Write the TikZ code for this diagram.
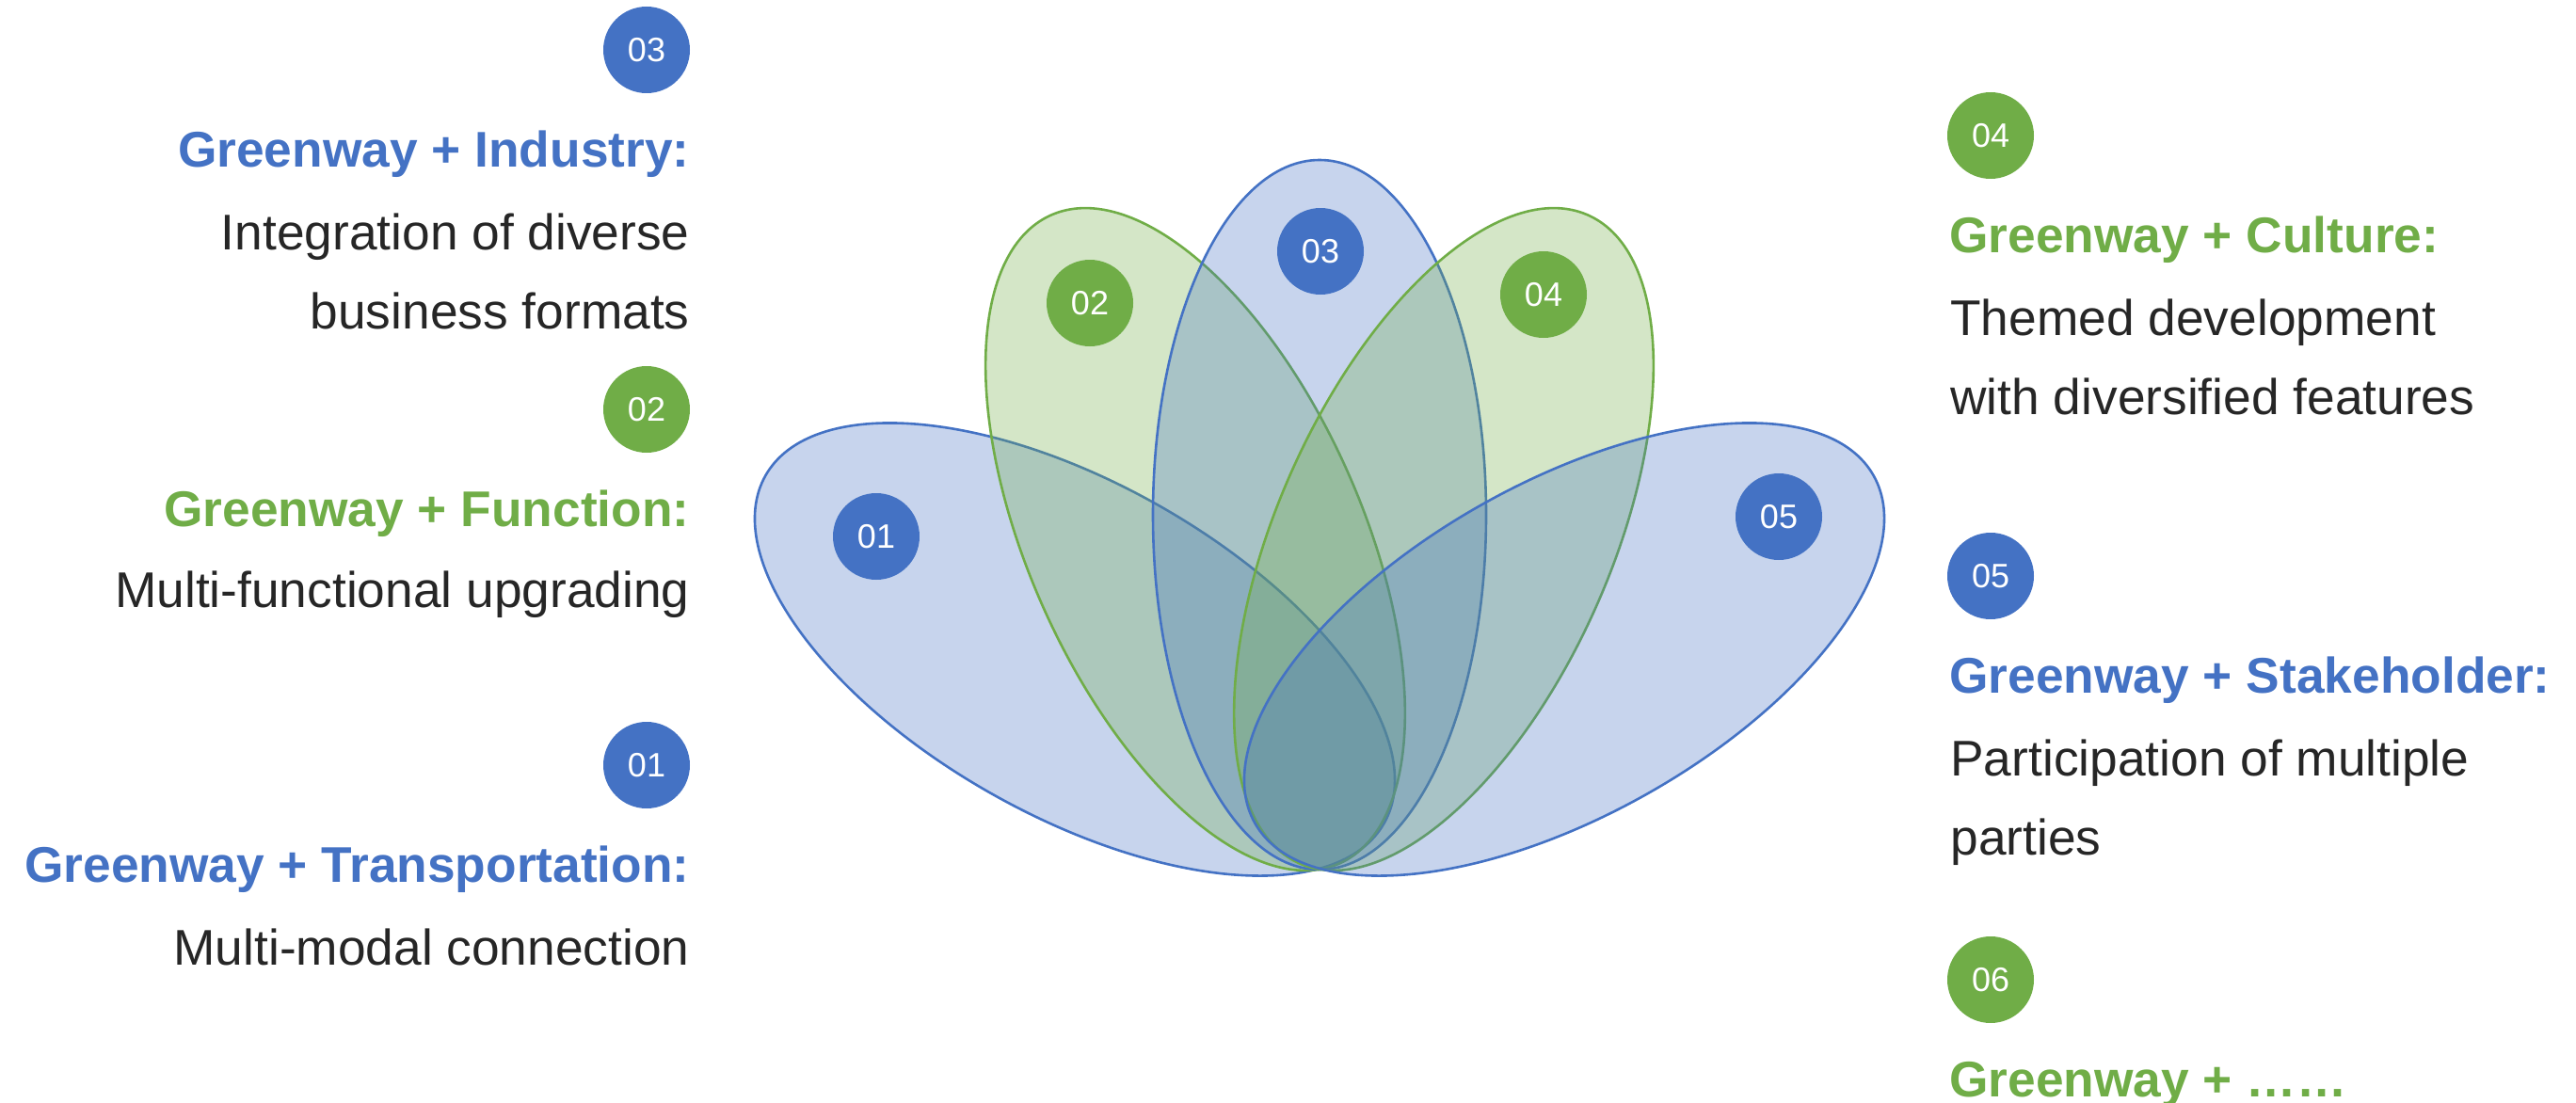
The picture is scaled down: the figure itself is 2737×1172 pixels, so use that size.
\documentclass[tikz,border=0pt]{standalone}
\usepackage{fontspec}
\setmainfont{Liberation Sans}
\usetikzlibrary{positioning}
\definecolor{gblue}{HTML}{4472C4}
\definecolor{ggreen}{HTML}{70AD47}
\definecolor{gtext}{HTML}{262626}
\tikzstyle{badge}=[circle,minimum size=46pt,inner sep=0pt,text=white,font=\fontsize{18pt}{18pt}\selectfont]
\tikzstyle{petal}=[line width=1.3pt,fill opacity=0.3]
\tikzstyle{head}=[inner sep=0pt,font=\fontsize{26.65pt}{42pt}\selectfont\bfseries]
\tikzstyle{desc}=[inner sep=0pt,text=gtext,font=\fontsize{26.65pt}{42pt}\selectfont]

\begin{document}
\begin{tikzpicture}[x=0.5pt,y=-0.5pt]
      \useasboundingbox (0,0) rectangle (2737,1172);

      % petals
      \foreach \cx/\cy/\ang/\col in {1142/690/60.7/gblue,1270/573/24/ggreen,1402/547/0/gblue,1534/573/-24/ggreen,1662/690/-60.7/gblue}{
        \path[petal,draw=\col,fill=\col,rotate around={\ang:(\cx,\cy)}] (\cx,\cy) ellipse [x radius=177,y radius=377];
      }
      \foreach \x/\y/\id/\col in {931/570/01/gblue,1158/322/02/ggreen,1403/267/03/gblue,1640/313/04/ggreen,1890/549/05/gblue}{
        \node[badge,fill=\col] (p\id) at (\x,\y) {\id};
      }

      % left column (\dy = baseline of the last description line)
      \foreach \y/\id/\col/\hd/\dy/\ds in {53/03/gblue/Industry/296/{Integration of diverse\\business formats},435/02/ggreen/Function/210/{Multi-functional upgrading},813/01/gblue/Transportation/212/{Multi-modal connection}}{
        \node[badge,fill=\col] (l\id) at (687,\y) {\id};
        \node[head,text=\col,anchor=base east] (lh\id) at (733,\y+124) {Greenway + \hd:};
        \node[desc,align=right,anchor=base east] (ld\id) at (733,\y+\dy) {\ds};
      }

      % right column
      \foreach \y/\id/\col/\hd/\ds in {144/04/ggreen/Culture/{Themed development\\with diversified features},612/05/gblue/Stakeholder/{Participation of multiple\\parties}}{
        \node[badge,fill=\col] (r\id) at (2115,\y) {\id};
        \node[head,text=\col,anchor=base west] (rh\id) at (2071,\y+124) {Greenway + \hd:};
        \node[desc,align=left,anchor=base west] (rd\id) at (2072,\y+296) {\ds};
      }
      \node[badge,fill=ggreen] (r06) at (2115,1041) {06};
      \node[head,text=ggreen,anchor=base west] (rh06) at (2071,1165) {Greenway + ……};

    \end{tikzpicture}
\end{document}
